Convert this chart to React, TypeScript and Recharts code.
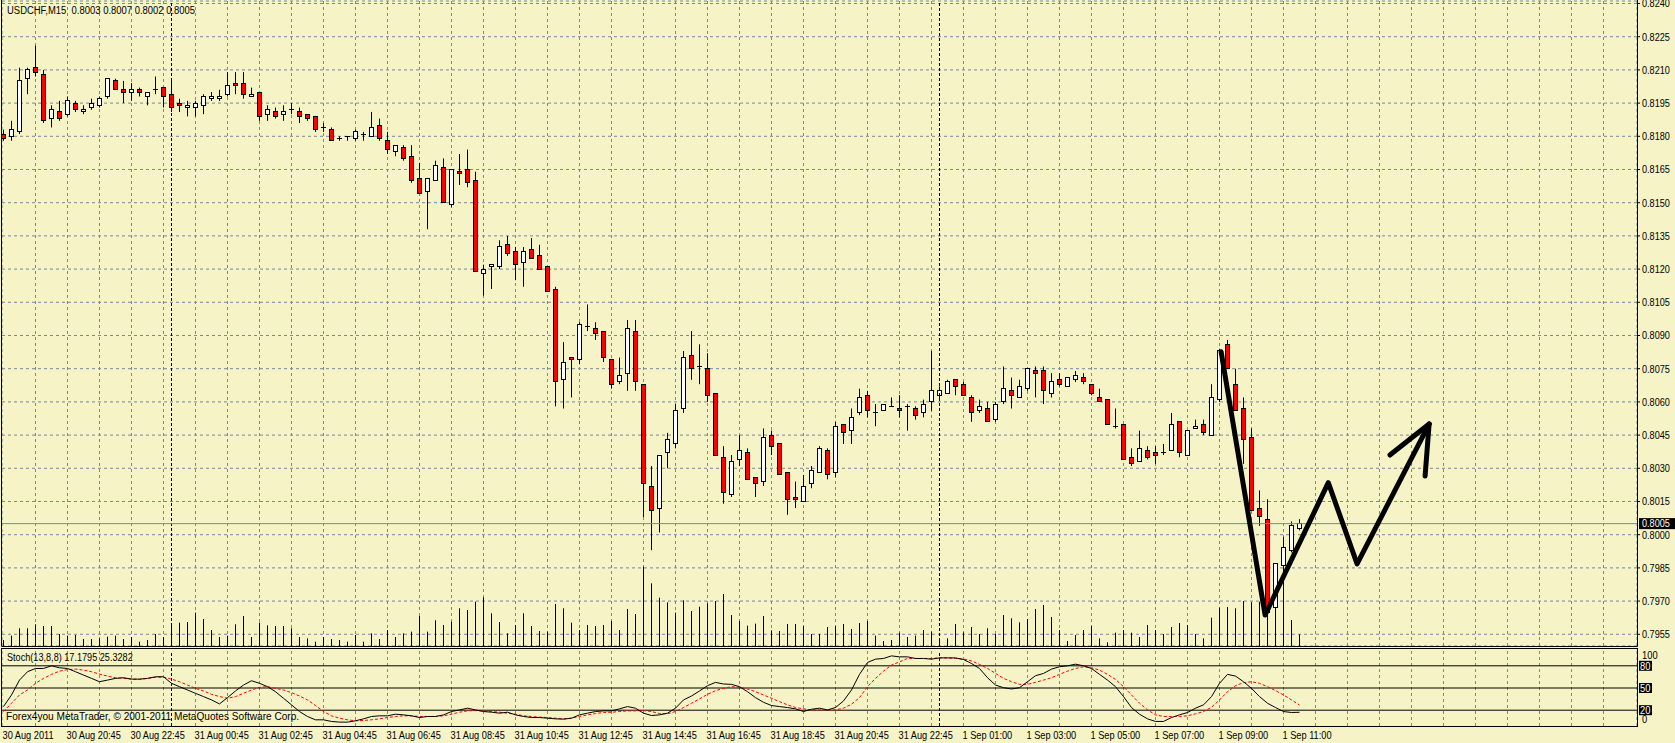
import React from 'react';
import {
  ComposedChart,
  Bar,
  Line,
  Scatter,
  XAxis,
  YAxis,
  CartesianGrid,
  ReferenceLine,
} from 'recharts';

const FONT = "'Liberation Sans', Arial, sans-serif";
const BG = '#F6F3C6';
const GRID = '#778899';

// USDCHF M15, 30 Aug 18:45 .. 1 Sep 11:15 (163 bars)
const opens = [
  0.8181, 0.818, 0.8182, 0.8206, 0.8211, 0.8208, 0.8188, 0.8191, 0.819, 0.8195,
  0.8191, 0.8193, 0.8194, 0.8198, 0.8205, 0.8201, 0.82, 0.8201, 0.8198, 0.8201,
  0.8202, 0.8199, 0.8195, 0.8193, 0.8193, 0.8194, 0.8197, 0.8197, 0.8199, 0.8204,
  0.8204, 0.8198, 0.82, 0.819, 0.8191, 0.819, 0.8192, 0.8191, 0.819, 0.8189,
  0.8184, 0.8183, 0.8179, 0.818, 0.8179, 0.8181, 0.818, 0.8185, 0.8178, 0.8173,
  0.8175, 0.8171, 0.8161, 0.8155, 0.816, 0.8166, 0.8149, 0.8164, 0.8165, 0.816,
  0.8118, 0.8121, 0.8121, 0.8131, 0.8128, 0.8123, 0.8129, 0.8126, 0.8121, 0.8111,
  0.807, 0.808, 0.8079, 0.8094, 0.8093, 0.8092, 0.8079, 0.8069, 0.8073, 0.8092,
  0.8068, 0.8022, 0.8012, 0.8037, 0.8041, 0.8057, 0.8081, 0.8076, 0.8075, 0.8064,
  0.8035, 0.8018, 0.8034, 0.8037, 0.8026, 0.8024, 0.8045, 0.8041, 0.8028, 0.8017,
  0.8015, 0.8023, 0.8028, 0.8038, 0.8028, 0.805, 0.8047, 0.8055, 0.8063, 0.8055,
  0.8056, 0.8058, 0.8057, 0.8058, 0.8057, 0.8055, 0.806, 0.8063, 0.8064, 0.807,
  0.8068, 0.8062, 0.8056, 0.8057, 0.8052, 0.806, 0.8065, 0.8062, 0.8066, 0.8074,
  0.8074, 0.8064, 0.807, 0.8067, 0.807, 0.8071, 0.8068, 0.8062, 0.8061, 0.8049,
  0.805, 0.8035, 0.8033, 0.8038, 0.8037, 0.8037, 0.8038, 0.8051, 0.8036, 0.8048,
  0.805, 0.8045, 0.8061, 0.8086, 0.8068, 0.8057, 0.8044, 0.8012, 0.8007, 0.7967,
  0.7986, 0.7993, 0.8003,
];
const highs = [
  0.8183, 0.8187, 0.8211, 0.8211, 0.8221, 0.821, 0.8194, 0.8196, 0.8198, 0.8196,
  0.8194, 0.8197, 0.8198, 0.8206, 0.8206, 0.8205, 0.8204, 0.8202, 0.82, 0.8207,
  0.8202, 0.8206, 0.8197, 0.8196, 0.8196, 0.8199, 0.82, 0.8201, 0.8209, 0.8209,
  0.8209, 0.8202, 0.82, 0.8194, 0.8193, 0.8194, 0.8195, 0.8193, 0.819, 0.8189,
  0.8186, 0.8184, 0.818, 0.818, 0.8183, 0.8182, 0.8191, 0.8188, 0.8182, 0.8176,
  0.8176, 0.8176, 0.8168, 0.8161, 0.8169, 0.817, 0.8165, 0.8172, 0.8174, 0.8164,
  0.8122, 0.8122, 0.8133, 0.8135, 0.813, 0.813, 0.8134, 0.8131, 0.8121, 0.8112,
  0.8087, 0.808, 0.8096, 0.8104, 0.8096, 0.8092, 0.8079, 0.808, 0.8097, 0.8097,
  0.8068, 0.8031, 0.8036, 0.8046, 0.8059, 0.8083, 0.8092, 0.8086, 0.8082, 0.8064,
  0.804, 0.8036, 0.8045, 0.8039, 0.8026, 0.8048, 0.8047, 0.8041, 0.8028, 0.8024,
  0.8027, 0.8031, 0.804, 0.8039, 0.8051, 0.805, 0.8057, 0.8066, 0.8065, 0.8059,
  0.8059, 0.8062, 0.8063, 0.8059, 0.8058, 0.8061, 0.8083, 0.8067, 0.807, 0.807,
  0.8069, 0.8063, 0.8061, 0.806, 0.806, 0.8076, 0.8071, 0.807, 0.8075, 0.8076,
  0.8076, 0.8073, 0.8073, 0.8071, 0.8074, 0.8073, 0.8068, 0.8066, 0.8061, 0.8057,
  0.805, 0.8039, 0.8047, 0.804, 0.804, 0.8041, 0.8055, 0.8051, 0.8047, 0.8052,
  0.8052, 0.8068, 0.8084, 0.8088, 0.8075, 0.8062, 0.8048, 0.802, 0.8016, 0.7987,
  0.7999, 0.8006, 0.8007,
];
const lows = [
  0.8178, 0.8178, 0.8181, 0.8199, 0.8207, 0.8186, 0.8184, 0.8187, 0.8189, 0.8191,
  0.819, 0.8192, 0.8193, 0.8197, 0.8201, 0.8195, 0.8196, 0.8198, 0.8194, 0.8199,
  0.8193, 0.8191, 0.8191, 0.8189, 0.8189, 0.819, 0.8196, 0.8196, 0.8198, 0.8199,
  0.8197, 0.8198, 0.8187, 0.8187, 0.8188, 0.8187, 0.819, 0.8186, 0.8187, 0.8182,
  0.8182, 0.8178, 0.8178, 0.8178, 0.8178, 0.8178, 0.818, 0.8178, 0.8172, 0.8171,
  0.8169, 0.8159, 0.8154, 0.8138, 0.816, 0.815, 0.8148, 0.8158, 0.8157, 0.8119,
  0.8108, 0.8111, 0.812, 0.8126, 0.8115, 0.8112, 0.8125, 0.812, 0.811, 0.8058,
  0.8057, 0.8062, 0.8077, 0.8092, 0.8088, 0.8078, 0.8066, 0.8068, 0.8065, 0.8065,
  0.8008, 0.7993, 0.8001, 0.803, 0.8039, 0.8055, 0.807, 0.8068, 0.806, 0.8036,
  0.8014, 0.8017, 0.8031, 0.8025, 0.8017, 0.8022, 0.8036, 0.8027, 0.8009, 0.8012,
  0.8015, 0.8021, 0.8028, 0.8025, 0.8026, 0.8041, 0.8041, 0.8054, 0.8053, 0.8049,
  0.8056, 0.8058, 0.8053, 0.8047, 0.8052, 0.8053, 0.8056, 0.8061, 0.8064, 0.8063,
  0.8063, 0.8051, 0.8055, 0.8051, 0.8051, 0.8059, 0.8057, 0.8062, 0.8065, 0.8062,
  0.8059, 0.8062, 0.8067, 0.8067, 0.8069, 0.8068, 0.8063, 0.806, 0.805, 0.8048,
  0.8034, 0.8031, 0.8033, 0.8034, 0.8032, 0.8036, 0.8038, 0.8035, 0.8036, 0.8048,
  0.8045, 0.8045, 0.806, 0.8075, 0.8056, 0.8032, 0.8011, 0.8004, 0.7962, 0.7966,
  0.7969, 0.7992, 0.8002,
];
const closes = [
  0.8179, 0.8183, 0.8205, 0.821, 0.8209, 0.8187, 0.8192, 0.8188, 0.8196, 0.8192,
  0.8192, 0.8195, 0.8197, 0.8206, 0.8201, 0.82, 0.8201, 0.82, 0.82, 0.8201,
  0.8198, 0.8193, 0.8194, 0.8194, 0.8195, 0.8198, 0.8198, 0.8198, 0.8203, 0.8203,
  0.8199, 0.8199, 0.8189, 0.8192, 0.8189, 0.8191, 0.8192, 0.8189, 0.8188, 0.8183,
  0.8184, 0.8178, 0.8179, 0.818, 0.8182, 0.8181, 0.8184, 0.8179, 0.8174, 0.8176,
  0.817, 0.816, 0.8154, 0.8161, 0.8167, 0.815, 0.8165, 0.8163, 0.8159, 0.8119,
  0.812, 0.8122, 0.813, 0.8127, 0.8122, 0.8128, 0.8125, 0.812, 0.811, 0.8069,
  0.8078, 0.8079, 0.8095, 0.8094, 0.8091, 0.808, 0.8068, 0.8072, 0.8093, 0.8069,
  0.8023, 0.8011, 0.8036, 0.8043, 0.8056, 0.808, 0.8075, 0.8076, 0.8063, 0.8036,
  0.8019, 0.8033, 0.8038, 0.8025, 0.8023, 0.8044, 0.804, 0.8027, 0.8016, 0.8016,
  0.8022, 0.8029, 0.8039, 0.8027, 0.8049, 0.8046, 0.8053, 0.8062, 0.8056, 0.8055,
  0.8059, 0.8058, 0.8056, 0.8058, 0.8054, 0.8059, 0.8065, 0.8065, 0.8069, 0.8067,
  0.8063, 0.8055, 0.8058, 0.8051, 0.8059, 0.8066, 0.8063, 0.8067, 0.8075, 0.8073,
  0.8065, 0.8069, 0.8068, 0.8071, 0.8072, 0.8069, 0.8064, 0.806, 0.805, 0.8049,
  0.8034, 0.8032, 0.8039, 0.8035, 0.8036, 0.8037, 0.805, 0.8037, 0.8047, 0.8049,
  0.8046, 0.8062, 0.8083, 0.8075, 0.8056, 0.8043, 0.8011, 0.8008, 0.7965, 0.7987,
  0.7994, 0.8004, 0.8005,
];
// tick volume
const volumes = [
  36, 62, 106, 106, 130, 120, 120, 72, 62, 66,
  42, 42, 46, 56, 62, 42, 54, 26, 36, 72,
  54, 120, 140, 144, 200, 162, 96, 54, 62, 130,
  180, 54, 140, 124, 120, 120, 106, 54, 46, 26,
  54, 42, 36, 26, 66, 26, 76, 42, 96, 54,
  76, 86, 180, 86, 154, 126, 146, 226, 216, 266,
  292, 196, 144, 76, 126, 196, 120, 90, 86, 252,
  226, 140, 96, 126, 120, 126, 150, 96, 222, 192,
  476, 376, 290, 262, 200, 274, 210, 236, 256, 270,
  312, 186, 150, 122, 134, 180, 94, 90, 132, 132,
  120, 72, 72, 114, 120, 132, 102, 138, 150, 62,
  30, 36, 80, 54, 62, 96, 86, 46, 46, 132,
  82, 114, 72, 106, 72, 186, 166, 142, 162, 222,
  246, 174, 96, 30, 66, 96, 120, 46, 22, 80,
  96, 80, 54, 126, 96, 72, 114, 138, 126, 72,
  46, 170, 230, 234, 226, 270, 262, 266, 286, 256,
  306, 156, 70,
];
// Stoch(13,8,8) main and signal
const stochK = [
  24.9, 40.6, 60.7, 72, 76.4, 76.4, 80, 77.3, 76.4, 72,
  67.5, 63, 58.5, 60.7, 63, 63.9, 62, 62, 63, 65.2,
  65.2, 56.3, 51.8, 47.3, 42.8, 38.4, 33.9, 28.5, 37, 46,
  54, 59.8, 56.3, 51.8, 45, 36.1, 27.2, 18.2, 11.5, 7,
  7, 4.8, 3.9, 3.9, 5.7, 8.3, 11.5, 12.4, 12.4, 14.6,
  13.7, 12.4, 10.1, 11.5, 11.5, 13.7, 18.2, 20.4, 22.7, 20.4,
  18.2, 17.3, 16, 17.3, 13.7, 11.5, 10.1, 10.1, 9.2, 8.3,
  7.9, 9.2, 13.7, 16, 18.2, 19.1, 19.1, 21.8, 24.9, 22.7,
  16, 12.8, 13.7, 16, 22.7, 33.9, 39.2, 46, 53.1, 57.6,
  55.4, 54.9, 51.8, 45, 37, 30.7, 26.3, 24.9, 23.6, 21.8,
  18.2, 21.3, 22.7, 20.4, 23.6, 32.5, 47.3, 68.4, 84.5, 89,
  89.9, 93.4, 92.1, 92.1, 89.9, 89.9, 89, 90.7, 90.7, 90.7,
  88.5, 83.1, 76.4, 63.9, 54, 50.4, 48.7, 50.4, 58.5, 66.6,
  69.7, 75.5, 78.7, 80, 82.2, 80, 76.4, 68.4, 60.7, 51.8,
  38.4, 23.6, 14.6, 8.3, 4.8, 4.8, 10.1, 13.7, 16.9, 22.7,
  27.2, 38.4, 56.3, 68.4, 66.1, 58.5, 49.5, 38.4, 29.4, 23.6,
  18.2, 16.9, 17.2,
];
const stochD = [
  18.2, 29.4, 40.6, 47.3, 56.3, 63, 68.4, 72.8, 75, 75.5,
  74.2, 72, 68.8, 66.1, 63.9, 63, 62, 61.6, 63, 64.3,
  64.8, 62, 58.5, 54, 49.5, 46, 41.5, 38.4, 36.1, 38.4,
  42.8, 47.3, 50.9, 51.8, 49.5, 47.3, 43.7, 39.2, 33.9, 26.3,
  18.2, 12.4, 9.2, 7, 5.7, 6.1, 7, 8.3, 10.1, 11.5,
  12.4, 12.4, 11.5, 11.5, 11.5, 12.4, 14.6, 17.3, 19.1, 19.5,
  19.1, 18.2, 17.3, 16, 14.6, 12.4, 11.5, 10.6, 10.1, 9.2,
  8.3, 9.2, 11.5, 13.7, 15.5, 16.9, 17.3, 18.2, 19.1, 19.1,
  19.5, 18.2, 15.5, 15.1, 18.2, 23.6, 29.4, 35.2, 41.5, 46.4,
  49.5, 51.8, 50.9, 48.7, 45, 40.6, 36.1, 31.6, 27.2, 23.6,
  21.8, 20.4, 20.4, 20.4, 20.4, 22.7, 28.1, 37, 51.8, 63,
  72.8, 80.9, 85.4, 89.9, 89.9, 89.9, 89.9, 90.7, 90.7, 89.9,
  89, 86.7, 81.8, 76.4, 69.7, 63, 58.5, 54.9, 54.9, 57.6,
  60.7, 63.9, 68.4, 72.8, 76.4, 78.7, 77.3, 74.2, 68.4, 61.6,
  51.8, 40.6, 29.4, 20.4, 13.7, 11.5, 11.5, 11.5, 12.4, 15.1,
  18.2, 24, 33.9, 45, 53.1, 57.2, 58.5, 56.3, 51.8, 46.4,
  40.6, 33.9, 27,
];

const priceTicks = [
  0.7955, 0.797, 0.7985, 0.8, 0.8015, 0.803, 0.8045, 0.806, 0.8075, 0.809,
  0.8105, 0.812, 0.8135, 0.815, 0.8165, 0.818, 0.8195, 0.821, 0.8225, 0.824,
];
const timeTickBars = [0, 8, 16, 24, 32, 40, 48, 56, 64, 72, 80, 88, 96, 104, 112, 120, 128, 136, 144, 152, 160];
const timeLabels = [
  '30 Aug 2011', '30 Aug 20:45', '30 Aug 22:45', '31 Aug 00:45', '31 Aug 02:45',
  '31 Aug 04:45', '31 Aug 06:45', '31 Aug 08:45', '31 Aug 10:45', '31 Aug 12:45',
  '31 Aug 14:45', '31 Aug 16:45', '31 Aug 18:45', '31 Aug 20:45', '31 Aug 22:45',
  '1 Sep 01:00', '1 Sep 03:00', '1 Sep 05:00', '1 Sep 07:00', '1 Sep 09:00', '1 Sep 11:00',
];
const daySeparators = [21, 117];
const stochLevels = [20, 50, 80];
const stochTicks = [0, 20, 50, 80, 100];
const bidPrice = 0.8005;

// hand-drawn forecast arrow (bar position, price)
const arrowBars = [152.2, 157.7, 165.6, 169.2, 178.2];
const arrowPrices = [0.80827, 0.79637, 0.80235, 0.79868, 0.805];
const headLeftBars = [173.3, 178.2];
const headLeftPrices = [0.8036, 0.805];
const headRightBars = [177.7, 178.2];
const headRightPrices = [0.80265, 0.805];

const X_DOMAIN: [number, number] = [-0.1875, 204.1875];
const P_DOMAIN: [number, number] = [0.794971, 0.824113];
const gridBars = Array.from({ length: 50 }, (_, k) => (k + 1) * 4);

const bars = opens.map((o, i) => ({
  i,
  o,
  h: highs[i],
  l: lows[i],
  c: closes[i],
  range: [lows[i], highs[i]],
  v: volumes[i],
  k: stochK[i],
  d: stochD[i],
}));
const toPoints = (xs: number[], ps: number[]) => xs.map((i, n) => ({ i, p: ps[n] }));
const arrowMain = toPoints(arrowBars, arrowPrices);
const arrowHeadL = toPoints(headLeftBars, headLeftPrices);
const arrowHeadR = toPoints(headRightBars, headRightPrices);

const half = (v: number) => Math.round(v - 0.5) + 0.5;

// terminal font is narrower than Liberation Sans, so squeeze text horizontally
function SText(props: { x: number; y: number; sx?: number; fill?: string; middle?: boolean; children: React.ReactNode }) {
  const { x, y, sx = 0.84, fill = '#000', middle, children } = props;
  return (
    <text
      transform={`translate(${x},${y}) scale(${sx},1)`}
      dy={middle ? '0.35em' : undefined}
      fontSize={11}
      fontFamily={FONT}
      fill={fill}
      style={{ whiteSpace: 'pre' }}
    >
      {children}
    </text>
  );
}

function Candle(props: any) {
  const { x, y, width, height } = props;
  const d = props.payload ?? props;
  if (d == null || height == null) return null;
  const cx = half(x + width / 2);
  const py = (p: number) => y + ((d.h - p) / (d.h - d.l)) * height;
  const top = half(py(Math.max(d.o, d.c)));
  const bot = half(py(Math.min(d.o, d.c)));
  const up = d.c >= d.o;
  return (
    <g>
      <line x1={cx} x2={cx} y1={y} y2={y + height} stroke="#000" />
      {bot - top < 1 ? (
        <line x1={cx - 2.5} x2={cx + 2.5} y1={top} y2={top} stroke="#000" />
      ) : (
        <rect x={cx - 2} y={top} width={4} height={bot - top} fill={up ? '#fff' : '#f00'} stroke="#000" />
      )}
    </g>
  );
}

function VolumeStick(props: any) {
  const { x, y, width, height } = props;
  if (height == null) return null;
  const cx = half(x + width / 2);
  return <line x1={cx} x2={cx} y1={y} y2={y + height} stroke="#000" />;
}

function NoDot() {
  return <g />;
}

function BidTag(props: any) {
  const vb = props.viewBox;
  if (!vb) return null;
  const x = vb.x + vb.width;
  return (
    <g>
      <rect x={x + 2} y={vb.y - 5.5} width={37} height={11} fill="#000" />
      <SText x={x + 5} y={vb.y} sx={0.83} fill="#fff" middle>
        {bidPrice.toFixed(4)}
      </SText>
    </g>
  );
}

function PriceTick(props: any) {
  const { x, y, payload } = props;
  return (
    <SText x={x} y={y} sx={0.83} middle>
      {payload.value.toFixed(4)}
    </SText>
  );
}

// baseline of the date labels inside the 95px-high lower chart
const TIME_BASELINE = 91;

function TimeTick(props: any) {
  const { x, payload } = props;
  const idx = timeTickBars.indexOf(payload.value);
  return (
    <SText x={x - 1} y={TIME_BASELINE} sx={0.84}>
      {timeLabels[idx]}
    </SText>
  );
}

function StochTick(props: any) {
  const { x, y, payload } = props;
  const v = payload.value;
  if (v === 100 || v === 0) {
    return (
      <SText x={x} y={v === 100 ? y + 4 : y - 6} sx={0.85} middle>
        {String(v)}
      </SText>
    );
  }
  return (
    <g>
      <rect x={x - 3} y={y - 5} width={13} height={10} fill="#000" />
      <SText x={x - 2} y={y} sx={0.85} fill="#fff" middle>
        {String(v)}
      </SText>
    </g>
  );
}

export default function App() {
  return (
    <div
      style={{
        position: 'absolute',
        left: 0,
        top: 0,
        width: 1675,
        height: 743,
        background: BG,
        overflow: 'hidden',
      }}
    >
      <div style={{ position: 'absolute', left: 0, top: 0 }}>
        <ComposedChart width={1675} height={647} data={bars} margin={{ top: 1, right: 0, bottom: 1, left: 2 }}>
          <CartesianGrid xAxisId="x" yAxisId="p" stroke={GRID} strokeDasharray="3 3" />
          <XAxis xAxisId="x" type="number" dataKey="i" domain={X_DOMAIN} ticks={gridBars} allowDataOverflow hide />
          <XAxis xAxisId="v" type="number" dataKey="i" domain={X_DOMAIN} allowDataOverflow hide />
          <XAxis xAxisId="a" type="number" dataKey="i" domain={X_DOMAIN} allowDataOverflow hide />
          <YAxis
            yAxisId="p"
            orientation="right"
            width={38}
            domain={P_DOMAIN}
            ticks={priceTicks}
            allowDataOverflow
            interval={0}
            axisLine={false}
            tickLine={{ stroke: '#000' }}
            tickSize={3}
            tickMargin={2}
            tick={<PriceTick />}
          />
          <YAxis yAxisId="vol" domain={[0, 3870]} allowDataOverflow hide />
          {daySeparators.map((b) => (
            <ReferenceLine key={b} xAxisId="x" yAxisId="p" x={b} stroke="#000" strokeDasharray="3 2" />
          ))}
          <ReferenceLine xAxisId="x" yAxisId="p" y={bidPrice} stroke={GRID} label={<BidTag />} />
          <Bar xAxisId="v" yAxisId="vol" dataKey="v" barSize={1} shape={VolumeStick} isAnimationActive={false} />
          <Bar xAxisId="x" yAxisId="p" dataKey="range" barSize={5} shape={Candle} isAnimationActive={false} />
          {[arrowMain, arrowHeadL, arrowHeadR].map((pts, n) => (
            <Scatter
              key={n}
              xAxisId="a"
              yAxisId="p"
              data={pts}
              dataKey="p"
              shape={NoDot}
              line={{ stroke: '#000', strokeWidth: 5, strokeLinecap: 'round', strokeLinejoin: 'round' }}
              isAnimationActive={false}
            />
          ))}
        </ComposedChart>
      </div>

      <div style={{ position: 'absolute', left: 0, top: 648 }}>
        <ComposedChart width={1675} height={95} data={bars} margin={{ top: 3, right: 0, bottom: 0, left: 2 }}>
          <CartesianGrid xAxisId="g" yAxisId="s" horizontal={false} stroke={GRID} strokeDasharray="3 3" />
          <XAxis xAxisId="g" type="number" dataKey="i" domain={X_DOMAIN} ticks={gridBars} allowDataOverflow hide />
          <XAxis
            xAxisId="t"
            type="number"
            dataKey="i"
            domain={X_DOMAIN}
            ticks={timeTickBars}
            allowDataOverflow
            interval={0}
            height={17}
            axisLine={false}
            tickLine={{ stroke: '#000' }}
            tickSize={4}
            tick={<TimeTick />}
          />
          <YAxis
            yAxisId="s"
            orientation="right"
            width={38}
            domain={[-1.35, 100]}
            ticks={stochTicks}
            allowDataOverflow
            interval={0}
            axisLine={false}
            tickLine={false}
            tickSize={0}
            tickMargin={5}
            tick={<StochTick />}
          />
          {stochLevels.map((lv) => (
            <ReferenceLine key={lv} xAxisId="t" yAxisId="s" y={lv} stroke="#000" />
          ))}
          {daySeparators.map((b) => (
            <ReferenceLine key={b} xAxisId="t" yAxisId="s" x={b} stroke="#000" strokeDasharray="3 2" />
          ))}
          <Line xAxisId="t" yAxisId="s" dataKey="d" type="linear" stroke="#ff0000" strokeDasharray="3 2" dot={false} isAnimationActive={false} />
          <Line xAxisId="t" yAxisId="s" dataKey="k" type="linear" stroke="#000" dot={false} isAnimationActive={false} />
        </ComposedChart>
      </div>

      <svg width={1675} height={743} style={{ position: 'absolute', left: 0, top: 0, pointerEvents: 'none' }}>
        <line x1={1.5} x2={1.5} y1={0} y2={646.5} stroke="#000" />
        <line x1={1637.5} x2={1637.5} y1={0} y2={646.5} stroke="#000" />
        <line x1={1.5} x2={1637.5} y1={646.5} y2={646.5} stroke="#000" />
        <rect x={1.5} y={648.5} width={1636} height={78} fill="none" stroke="#000" />
        <SText x={7} y={14} sx={0.86}>USDCHF,M15  0.8003 0.8007 0.8002 0.8005</SText>
        <SText x={7} y={661} sx={0.83}>Stoch(13,8,8) 17.1795 25.3282</SText>
        <SText x={6} y={720} sx={0.92}>Forex4you MetaTrader, © 2001-2011 MetaQuotes Software Corp.</SText>
      </svg>
    </div>
  );
}
